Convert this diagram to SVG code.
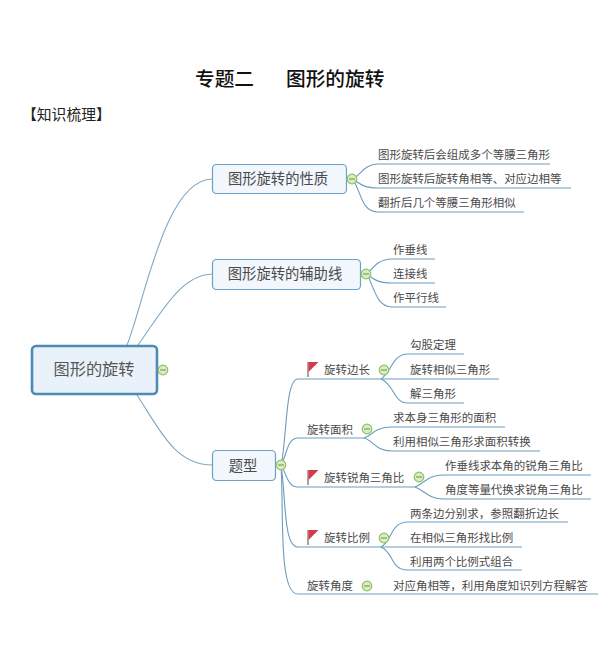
<svg xmlns="http://www.w3.org/2000/svg" width="612" height="668" viewBox="0 0 612 668">
<defs>
<style>
text{font-family:"Noto Sans CJK SC","Noto Sans",sans-serif;fill:#4a4a4a;font-size:11.47px}
.title{font-size:19.7px;fill:#111;font-family:"Noto Sans CJK SC",sans-serif;font-weight:500}
.hdr{font-size:14.8px;fill:#222}
.n1{font-size:14.3px;text-anchor:middle;fill:#4a4a4a}
.root{font-size:16.2px;text-anchor:middle;fill:#555}
.b1{fill:#f1f7fc;stroke:#6f9fc4;stroke-width:1.2}
.c{fill:none;stroke:#7fa8c6;stroke-width:1.1}
.u{fill:none;stroke:#6b9cc0;stroke-width:1.1}
.tg circle{fill:#d8eebc;stroke:#8fc069;stroke-width:1.2}
.tg line{stroke:#6f8f5c;stroke-width:1}
</style>
<g id="toggle" class="tg"><circle r="4.8"/><line x1="-3" x2="3" y1="0" y2="0"/></g>
<g id="flag"><path d="M308 362V377" stroke="#9a8f80" stroke-width="1.6" fill="none"/><path d="M308.500 362H318.500L313.500 367L308.500 372Z" fill="#d8394a"/></g>
</defs>
<g id="headings">
<text class="title" x="195" y="86">专题二</text>
<text class="title" x="286" y="86">图形的旋转</text>
<text class="hdr" x="22" y="120">【知识梳理】</text>
</g>
<g id="connectors">
<path class="c" d="M127 345C145 300 165 180 212 179"/>
<path class="c" d="M138 345C160 315 180 275 212 274"/>
<path class="c" d="M137 395C160 430 175 465 212 465"/>
<path class="u" d="M353 179C360 175 365 164 378 164H550"/>
<path class="u" d="M353 179C359 184 365 188 378 188H571"/>
<path class="u" d="M353 179C362 195 362 212 378 212H524"/>
<path class="u" d="M367 274C373 268 378 259 392 259H435"/>
<path class="u" d="M367 274C373 279 378 283 392 283H435"/>
<path class="u" d="M367 274C375 290 377 307 392 307H446"/>
<path class="u" d="M281 465C287 440 285 379 298 379H381"/>
<path class="u" d="M281 465C287 455 287 438 298 438H364"/>
<path class="u" d="M281 465C286 472 287 487 298 487H415"/>
<path class="u" d="M281 465C286 495 283 547 298 547H381"/>
<path class="u" d="M281 465C284 510 278 594 298 594H598"/>
<path class="u" d="M381 379C392 372 392 354 408 354H464"/>
<path class="u" d="M381 379H499"/>
<path class="u" d="M381 379C395 385 393 403 408 403H464"/>
<path class="u" d="M364 438C372 436 374 427 392 427H505"/>
<path class="u" d="M364 438C373 440 375 451 392 451H540"/>
<path class="u" d="M415 487C424 484 427 475 444 475H591"/>
<path class="u" d="M415 487C424 490 428 499 444 499H591"/>
<path class="u" d="M381 547C392 542 390 522 408 522H568"/>
<path class="u" d="M381 547H522"/>
<path class="u" d="M381 547C394 552 390 570 408 570H522"/>
</g>
<g id="root"><rect x="32" y="346" width="125" height="48" rx="4" fill="#e9f2fa" stroke="#4b8bb4" stroke-width="2.6"/><text class="root" x="94" y="375">图形的旋转</text><use href="#toggle" x="163" y="370"/></g>
<g id="n-xingzhi"><rect class="b1" x="212.500" y="164.500" width="134" height="29" rx="4"/><text class="n1" x="278" y="184">图形旋转的性质</text><use href="#toggle" x="352" y="179"/></g>
<g id="n-fuzhuxian"><rect class="b1" x="212.500" y="259.500" width="148" height="30" rx="4"/><text class="n1" x="285" y="279">图形旋转的辅助线</text><use href="#toggle" x="366" y="274"/></g>
<g id="n-tixing"><rect class="b1" x="212.500" y="450.500" width="63" height="30" rx="4"/><text class="n1" x="243" y="470.500">题型</text><use href="#toggle" x="281" y="465"/></g>
<g id="l1"><text x="378" y="159">图形旋转后会组成多个等腰三角形</text></g>
<g id="l2"><text x="378" y="183">图形旋转后旋转角相等、对应边相等</text></g>
<g id="l3"><text x="378" y="207">翻折后几个等腰三角形相似</text></g>
<g id="l4"><text x="393" y="254">作垂线</text></g>
<g id="l5"><text x="393" y="278">连接线</text></g>
<g id="l6"><text x="393" y="302">作平行线</text></g>
<g id="t1"><use href="#flag"/><text x="324" y="374">旋转边长</text><use href="#toggle" x="384" y="370"/></g>
<g id="t1a"><text x="410" y="349">勾股定理</text></g>
<g id="t1b"><text x="410" y="374">旋转相似三角形</text></g>
<g id="t1c"><text x="410" y="398">解三角形</text></g>
<g id="t2"><text x="307" y="434">旋转面积</text><use href="#toggle" x="367" y="429"/></g>
<g id="t2a"><text x="393" y="422">求本身三角形的面积</text></g>
<g id="t2b"><text x="393" y="446">利用相似三角形求面积转换</text></g>
<g id="t3"><use href="#flag" y="108"/><text x="324" y="482">旋转锐角三角比</text><use href="#toggle" x="419" y="477"/></g>
<g id="t3a"><text x="445" y="470">作垂线求本角的锐角三角比</text></g>
<g id="t3b"><text x="445" y="494">角度等量代换求锐角三角比</text></g>
<g id="t4"><use href="#flag" y="168"/><text x="324" y="542">旋转比例</text><use href="#toggle" x="384" y="538"/></g>
<g id="t4a"><text x="410" y="518">两条边分别求，参照翻折边长</text></g>
<g id="t4b"><text x="410" y="542">在相似三角形找比例</text></g>
<g id="t4c"><text x="410" y="566">利用两个比例式组合</text></g>
<g id="t5"><text x="307" y="590">旋转角度</text><use href="#toggle" x="367" y="586"/></g>
<g id="t5a"><text x="393" y="590">对应角相等，利用角度知识列方程解答</text></g>
</svg>
